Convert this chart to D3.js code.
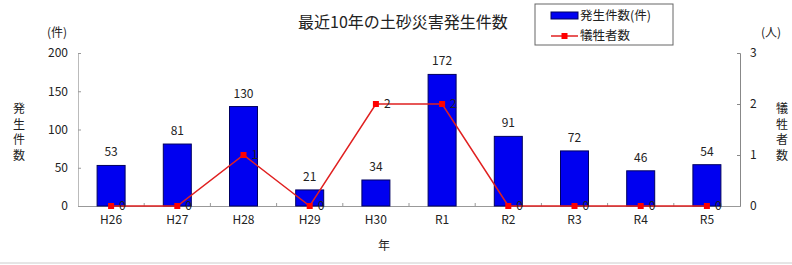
<!DOCTYPE html>
<html>
<head>
<meta charset="utf-8">
<script src="https://cdn.jsdelivr.net/npm/d3@7"></script>
<style>
  body { margin: 0; background: #fff; }
  text { font-family: "Noto Sans CJK JP", sans-serif; fill: #222; }
</style>
</head>
<body>
<script>
const years = ["H26", "H27", "H28", "H29", "H30", "R1", "R2", "R3", "R4", "R5"];
const counts = [53, 81, 130, 21, 34, 172, 91, 72, 46, 54];
const victims = [0, 0, 1, 0, 2, 2, 0, 0, 0, 0];
const leftTicks = [0, 50, 100, 150, 200];
const rightTicks = [0, 1, 2, 3];

const W = 792, H = 265;
const plot = {left: 78, right: 740, top: 53, bottom: 206};

const svg = d3.select("body").append("svg")
  .attr("width", W)
  .attr("height", H);

const x = d3.scaleBand().domain(years).range([plot.left, plot.right]);
const yL = d3.scaleLinear().domain([0, 200]).range([plot.bottom, plot.top]);
const yR = d3.scaleLinear().domain([0, 3]).range([plot.bottom, plot.top]);

// title
svg.append("text")
  .attr("x", 403).attr("y", 28)
  .attr("text-anchor", "middle")
  .style("font-size", "16px")
  .text("最近10年の土砂災害発生件数");

// left axis
const axL = svg.append("g")
  .attr("transform", "translate(" + plot.left + ",0)")
  .call(d3.axisRight(yL).tickValues(leftTicks).tickSize(3).tickFormat(d3.format("d")));
axL.select(".domain").attr("stroke", "#bbb");
axL.selectAll(".tick line").attr("stroke", "#999");
axL.selectAll(".tick text")
  .attr("x", -10).attr("text-anchor", "end")
  .style("font-size", "12px").style("font-family", "'Noto Sans CJK JP', sans-serif");

// right axis
const axR = svg.append("g")
  .attr("transform", "translate(" + plot.right + ",0)")
  .call(d3.axisLeft(yR).tickValues(rightTicks).tickSize(3).tickFormat(d3.format("d")));
axR.select(".domain").attr("stroke", "#888");
axR.selectAll(".tick line").attr("stroke", "#888");
axR.selectAll(".tick text")
  .attr("x", 10).attr("text-anchor", "start")
  .style("font-size", "12px").style("font-family", "'Noto Sans CJK JP', sans-serif");

// x axis
const axB = svg.append("g")
  .attr("transform", "translate(0," + plot.bottom + ")")
  .call(d3.axisBottom(x).tickSize(0).tickPadding(9));
axB.select(".domain").attr("stroke", "#999");
axB.selectAll(".tick text")
  .style("font-size", "12px").style("font-family", "'Noto Sans CJK JP', sans-serif");
// little separators between categories
svg.append("g").selectAll("line")
  .data(years.slice(1))
  .enter().append("line")
  .attr("x1", d => x(d)).attr("x2", d => x(d))
  .attr("y1", plot.bottom - 3).attr("y2", plot.bottom)
  .attr("stroke", "#999");

// axis titles
svg.append("text").attr("x", 57).attr("y", 37).attr("text-anchor", "middle")
  .style("font-size", "12px").text("(件)");
svg.append("text").attr("x", 771).attr("y", 37).attr("text-anchor", "middle")
  .style("font-size", "12px").text("(人)");
svg.append("text").attr("x", 384).attr("y", 250).attr("text-anchor", "middle")
  .style("font-size", "12px").text("年");

const vert = (str, cx, y0) => {
  svg.append("g").selectAll("text")
    .data(str.split(""))
    .enter().append("text")
    .attr("x", cx).attr("y", (d, i) => y0 + i * 15.5)
    .attr("text-anchor", "middle")
    .style("font-size", "12px")
    .text(d => d);
};
vert("発生件数", 19, 113);
vert("犠牲者数", 782, 113);

// bars
const bw = 28;
svg.append("g").selectAll("rect")
  .data(counts)
  .enter().append("rect")
  .attr("x", (d, i) => x(years[i]) + x.bandwidth() / 2 - bw / 2)
  .attr("y", d => yL(d))
  .attr("width", bw)
  .attr("height", d => plot.bottom - yL(d))
  .attr("fill", "#0000f0")
  .attr("stroke", "#000060")
  .attr("stroke-width", 1);

svg.append("g").selectAll("text")
  .data(counts)
  .enter().append("text")
  .attr("x", (d, i) => x(years[i]) + x.bandwidth() / 2)
  .attr("y", d => yL(d) - 9)
  .attr("text-anchor", "middle")
  .style("font-size", "12px")
  .text(d => d);

// victims line
const cx = i => x(years[i]) + x.bandwidth() / 2;
const line = d3.line()
  .x((d, i) => cx(i))
  .y(d => yR(d));
svg.append("path")
  .datum(victims)
  .attr("d", line)
  .attr("fill", "none")
  .attr("stroke", "#e02020")
  .attr("stroke-width", 1.5);

svg.append("g").selectAll("rect")
  .data(victims)
  .enter().append("rect")
  .attr("x", (d, i) => cx(i) - 3)
  .attr("y", d => yR(d) - 3)
  .attr("width", 6).attr("height", 6)
  .attr("fill", "#ff0000");

svg.append("g").selectAll("text")
  .data(victims)
  .enter().append("text")
  .attr("x", (d, i) => cx(i) + 8)
  .attr("y", d => yR(d) + 4)
  .style("font-size", "12px")
  .text(d => d);

// legend
const lg = svg.append("g").attr("transform", "translate(535,4)");
lg.append("rect").attr("width", 138).attr("height", 41)
  .attr("fill", "#fff").attr("stroke", "#666");
lg.append("rect").attr("x", 16).attr("y", 8).attr("width", 27).attr("height", 7)
  .attr("fill", "#0000f0").attr("stroke", "#000060");
lg.append("text").attr("x", 45).attr("y", 16).style("font-size", "12.5px").text("発生件数(件)");
lg.append("line").attr("x1", 16).attr("x2", 43).attr("y1", 32).attr("y2", 32)
  .attr("stroke", "#e02020").attr("stroke-width", 1.5);
lg.append("rect").attr("x", 26.5).attr("y", 29).attr("width", 6).attr("height", 6)
  .attr("fill", "#ff0000");
lg.append("text").attr("x", 45).attr("y", 36).style("font-size", "12.5px").text("犠牲者数");

// bottom rule
svg.append("line")
  .attr("x1", 0).attr("x2", W)
  .attr("y1", 263).attr("y2", 263)
  .attr("stroke", "#ccc");
</script>
</body>
</html>
